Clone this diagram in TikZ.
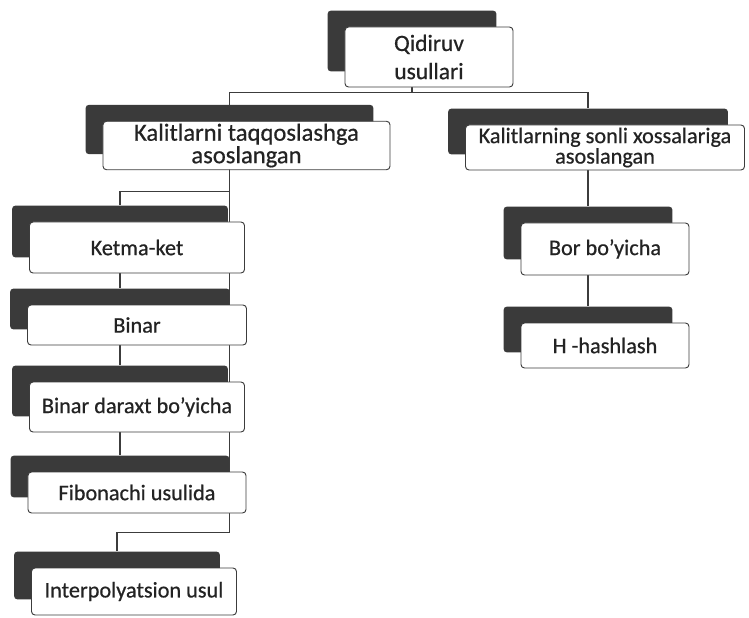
\documentclass[tikz,border=0pt]{standalone}
\usepackage{fontspec}
\setmainfont{Carlito}[FakeBold=0.6]
\usetikzlibrary{positioning, fit, backgrounds, calc}
\definecolor{edgegray}{RGB}{60, 60, 60}
\definecolor{shadegray}{RGB}{58, 58, 58}
\definecolor{inkgray}{RGB}{35, 35, 35}

\begin{document}
\begin{tikzpicture}[
    x=0.03cm, y=-0.03cm,
    card/.style={
        draw=edgegray, line width=0.8pt, rounded corners=3pt, fill=white,
        align=center, inner sep=2pt, text=inkgray,
        font=\fontsize{19}{14.5}\selectfont
    },
    backcard/.style={
        fill=shadegray, draw=none, rounded corners=3pt,
        inner sep=0pt, shift={(-17,-16)}
    },
    link/.style={draw=edgegray, line width=0.9pt}
]
\useasboundingbox (0,0) rectangle (749,618);

% root
\node[card, minimum width=5.04cm, minimum height=1.8cm,
      font=\fontsize{20}{24}\selectfont] (root) at (429,57) {Qidiruv\\usullari};

% second level
\node[card, minimum width=8.61cm, minimum height=1.35cm,
      font=\fontsize{21}{14.5}\selectfont] (kalit) at (246.5,145.5)
    {Kalitlarni taqqoslashga\\asoslangan};
\node[card, minimum width=8.37cm, minimum height=1.35cm] (sonli) at (605,147.5)
    {Kalitlarning sonli xossalariga\\asoslangan};

% left column
\node[card, minimum width=6.45cm, minimum height=1.53cm] (ketma) at (137,247.5) {Ketma-ket};
\node[card, minimum width=6.57cm, minimum height=1.2cm] (binar) at (137,325) {Binar};
\node[card, minimum width=6.45cm, minimum height=1.5cm] (daraxt) at (137,407) {Binar daraxt bo'yicha};
\node[card, minimum width=6.54cm, minimum height=1.23cm] (fibo) at (137,492.5) {Fibonachi usulida};
\node[card, minimum width=6.15cm, minimum height=1.41cm] (interp) at (134,591.5) {Interpolyatsion usul};

% right column
\node[card, minimum width=5.04cm, minimum height=1.56cm] (bor) at (605,249) {Bor bo'yicha};
\node[card, minimum width=5.04cm, minimum height=1.35cm] (hash) at (605,345.5) {H -hashlash};

\begin{scope}[on background layer]
% dark cards behind
\node[backcard, fit=(root)] (root-s) {};
\node[backcard, fit=(kalit)] (kalit-s) {};
\node[backcard, fit=(sonli)] (sonli-s) {};
\node[backcard, fit=(ketma)] (ketma-s) {};
\node[backcard, fit=(binar)] (binar-s) {};
\node[backcard, fit=(daraxt)] (daraxt-s) {};
\node[backcard, fit=(fibo)] (fibo-s) {};
\node[backcard, fit=(interp)] (interp-s) {};
\node[backcard, fit=(bor)] (bor-s) {};
\node[backcard, fit=(hash)] (hash-s) {};

% connectors
\coordinate (bar) at ($(root-s.south)+(0,21)$);
\coordinate (fork) at ($(kalit-s.south)+(0,37)$);
\coordinate (turn) at ($(fibo.south -| kalit-s.south)+(0,19)$);
\draw[link] (root-s.south) -- (bar);
\draw[link] (kalit-s.north) |- (bar) -| (sonli-s.north);
\draw[link] (kalit-s.south) -- (fork) -| (ketma-s.north);
\draw[link] (fork) -- (turn) -| (interp-s.north);
\draw[link] (ketma-s.south) -- (binar-s.north);
\draw[link] (binar-s.south) -- (daraxt-s.north);
\draw[link] (daraxt-s.south) -- (fibo-s.north);
\draw[link] (sonli-s.south) -- (bor-s.north);
\draw[link] (bor-s.south) -- (hash-s.north);
\end{scope}
\end{tikzpicture}
\end{document}
